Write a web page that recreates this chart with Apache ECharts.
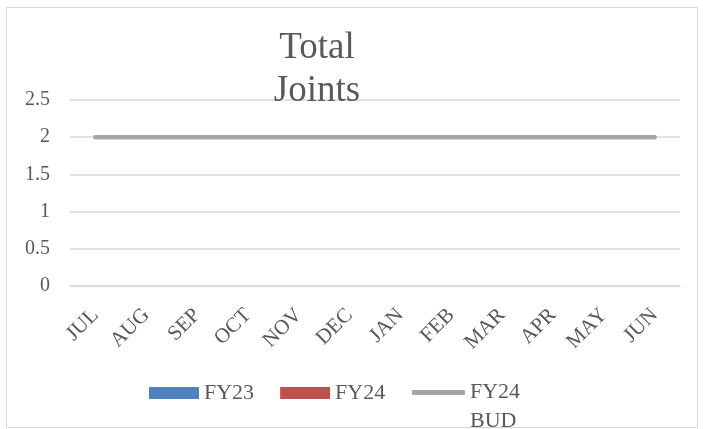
<!DOCTYPE html>
<html>
<head>
<meta charset="utf-8">
<script src="https://cdn.jsdelivr.net/npm/echarts@6/dist/echarts.min.js"></script>
<style>html,body{margin:0;padding:0;background:#fff}#c{width:703px;height:429px}</style>
</head>
<body>
<div id="c"></div>
<script>
var categories = ['JUL','AUG','SEP','OCT','NOV','DEC','JAN','FEB','MAR','APR','MAY','JUN'];
var fy23 = [null,null,null,null,null,null,null,null,null,null,null,null];
var fy24 = [null,null,null,null,null,null,null,null,null,null,null,null];
var fy24Bud = [2,2,2,2,2,2,2,2,2,2,2,2];
var yTicks = {min:0, max:2.5, interval:0.5};

var font = '"Liberation Serif", "DejaVu Serif", serif';
var txt = '#595959';
var chart = echarts.init(document.getElementById('c'), null, {renderer:'canvas'});
chart.setOption({
  animation:false,
  backgroundColor:'#fff',
  graphic:[{type:'rect', shape:{x:6.5,y:7.5,width:691,height:420}, style:{fill:'none', stroke:'#D9D9D9', lineWidth:1}, silent:true}],
  title:{text:'Total\nJoints', left:317, top:27, padding:0, textAlign:'center',
    textStyle:{fontFamily:font, fontSize:37, fontWeight:'normal', color:txt, lineHeight:43}},
  legend:[{
    data:['FY23','FY24'], left:149, top:380, itemGap:26, itemWidth:50, itemHeight:12, icon:'rect',
    textStyle:{fontFamily:font, fontSize:22, color:txt, lineHeight:26}, padding:0, selectedMode:false
  },{
    data:[{name:'FY24 BUD', icon:'roundRect'}], left:412, top:349, itemWidth:53, itemHeight:5, padding:0,
    formatter:function(n){return '\nFY24\nBUD';},
    textStyle:{fontFamily:font, fontSize:22, color:txt, lineHeight:29}, selectedMode:false
  }],
  grid:{left:70, right:23, top:100, bottom:143, containLabel:false},
  xAxis:{type:'category', data:categories, boundaryGap:true,
    axisLine:{show:true, lineStyle:{color:'#D9D9D9', width:1.5}}, axisTick:{show:false},
    axisLabel:{rotate:45, margin:26, interval:0, fontFamily:font, fontSize:21, color:txt}},
  yAxis:{type:'value', min:yTicks.min, max:yTicks.max, interval:yTicks.interval,
    axisLine:{show:false}, axisTick:{show:false},
    splitLine:{lineStyle:{color:'#D9D9D9', width:1.5}},
    axisLabel:{margin:20, fontFamily:font, fontSize:20, color:txt}},
  series:[
    {name:'FY23', type:'bar', data:fy23, itemStyle:{color:'#4F81BD'}},
    {name:'FY24', type:'bar', data:fy24, itemStyle:{color:'#C0504D'}},
    {name:'FY24 BUD', type:'line', data:fy24Bud, symbol:'none', itemStyle:{color:'#A5A5A5'},
      lineStyle:{color:'#A5A5A5', width:4.5, cap:'round'}}
  ]
});
</script>
</body>
</html>
